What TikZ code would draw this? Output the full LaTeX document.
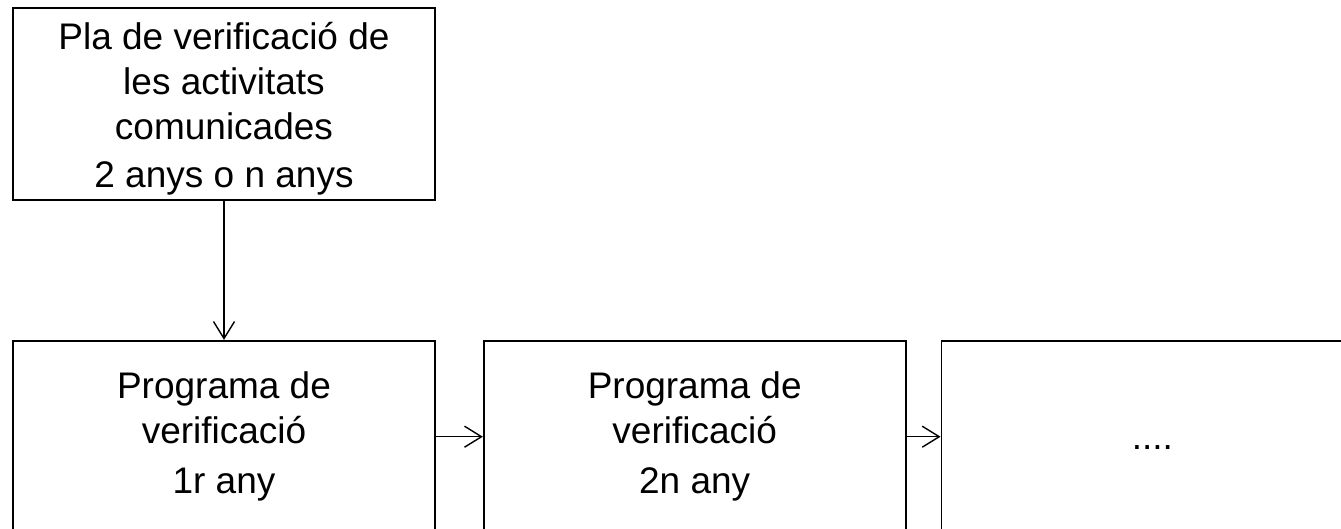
\documentclass[tikz,border=0pt]{standalone}
\usepackage{fontspec}
\setmainfont{Liberation Sans}
\usetikzlibrary{arrows.meta,positioning}

\begin{document}
\begin{tikzpicture}[x=1pt,y=-1pt,
  caixa/.style={draw,line width=1.7pt,minimum width=422pt,minimum height=192pt,
    align=center,inner sep=0pt,font=\fontsize{37}{45}\selectfont},
  fletxa/.style={line width=1.4pt,-{Straight Barb[length=17pt,width=21pt,line width=1.4pt]}}]
\useasboundingbox (0,0) rectangle (1341,528);
\clip (0,0) rectangle (1341,528);
% pla general
\node[caixa] (pla) at (224,104) {\rule{0pt}{36pt}Pla de verificació de\\les activitats\\comunicades\\[3pt]2 anys o n anys};
% programes anuals
\node[caixa,below=139pt of pla] (prog1) {Programa de\\verificació\\[5pt]1r any};
\node[caixa,right=47pt of prog1] (prog2) {Programa de\\verificació\\[5pt]2n any};
\node[caixa,right=34pt of prog2] (prog3) {\rule[-10pt]{0pt}{46pt}....};
\draw[fletxa] (pla) -- (prog1);
\draw[fletxa] (prog1) -- (prog2);
\draw[fletxa] (prog2) -- (prog3);
\end{tikzpicture}
\end{document}
